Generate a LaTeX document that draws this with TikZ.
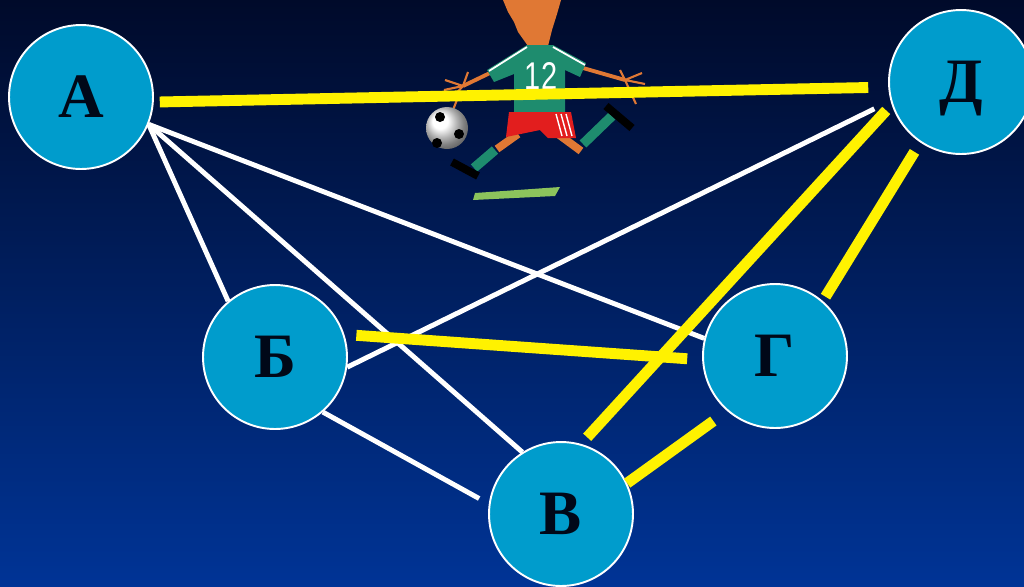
\documentclass[tikz,border=0pt]{standalone}
\usepackage{fontspec}
\setmainfont{Liberation Serif}
\setsansfont{Liberation Sans}
\usepackage{tikz}
\definecolor{bgtop}{RGB}{0,10,42}
\definecolor{bgbot}{RGB}{0,52,150}
\definecolor{vfill}{RGB}{0,156,204}
\definecolor{vtext}{RGB}{0,8,24}
\definecolor{skin}{RGB}{224,120,52}
\definecolor{shirt}{RGB}{30,140,110}
\definecolor{shorts}{RGB}{226,30,30}
\definecolor{grass}{RGB}{140,196,92}

\begin{document}
\begin{tikzpicture}[x=0.02cm,y=-0.02cm,
    vertex/.style={circle,fill=vfill,draw=white,line width=1.1pt,minimum size=2.88cm,inner sep=0pt,
      text=vtext,text depth=0pt,font=\fontsize{36}{36}\selectfont\bfseries},
    wline/.style={white,line width=2.8pt},
    yline/.style={yellow,line width=6.2pt}]
    \useasboundingbox (0,0) rectangle (1024,586);
    \clip (0,0) rectangle (1024,586);
    \shade[top color=bgtop,bottom color=bgbot] (0,0) rectangle (1024,586);

%   the player
    \fill[grass] (475,193) -- (560,187) -- (555,196) -- (473,200) -- cycle;
    \fill[skin] (503,0) -- (561,0) -- (557,14) -- (552,30) -- (548,46) -- (528,46) -- (518,32)
      -- (514,22) -- (508,12) -- cycle;
    \draw[skin,line width=2.2pt] (492,72) -- (463,86);
    \draw[skin,line width=1.2pt] (463,86) -- (445,80) (463,86) -- (444,90) (463,86) -- (452,98)
      (463,86) -- (468,72) (460,92) -- (453,110);
    \draw[skin,line width=2.2pt] (583,68) -- (625,80);
    \draw[skin,line width=1.2pt] (625,80) -- (642,73) (625,80) -- (645,84) (625,80) -- (636,104)
      (625,80) -- (620,70);
    \fill[shirt] (527,45) -- (553,45) -- (586,63) -- (580,77) -- (565,70) -- (565,116) -- (514,116)
      -- (514,74) -- (494,82) -- (487,70) -- cycle;
    \draw[white,line width=1pt] (527,47) -- (489,71) (553,47) -- (585,65);
    \node (num) at (541,76) [white,xscale=.75,font=\sffamily\fontsize{22}{22}\selectfont] {12};
    \draw[skin,line width=4.5pt] (518,134) -- (497,149) (558,134) -- (581,151);
    \draw[shirt,line width=5.5pt] (495,150) -- (474,168) (583,144) -- (612,116);
    \draw[black,line width=4.5pt] (452,162) -- (478,176) (606,106) -- (632,128);
    \fill[shorts] (509,112) -- (571,112) -- (576,138) -- (548,138) -- (540,130) -- (506,137) -- cycle;
    \draw[white,line width=.8pt] (556,114) -- (562,136) (561,114) -- (567,136) (566,114) -- (572,136);
    \shade[ball color=white] (447,128) circle (21);
    \fill[black] (440,117) circle (5) (459,134) circle (5) (437,143) circle (5);

%   the five circles
    \node (A) at (81,97) [vertex] {А};
    \node (B) at (275,357) [vertex] {Б};
    \node (V) at (561,514) [vertex] {В};
    \node (G) at (775,356) [vertex] {Г};
    \node (D) at (961,82) [vertex] {Д};

%   white edges
    \draw[wline] (A.-22) -- (B.130);
    \draw[wline] (A.-22) -- (V.122);
    \draw[wline] (A.-22) -- (G.166);
    \draw[wline,shorten <=0.36cm] (D.195) -- (B.-8);
    \draw[wline,shorten >=0.22cm] (B.-49) -- (V.172);
%   yellow edges
    \draw[yline,shorten <=0.12cm,shorten >=0.4cm] (A.-4) -- (D.184);
    \draw[yline,shorten <=0.24cm,shorten >=0.3cm] (B.18) -- (G.183);
    \draw[yline,shorten <=0.16cm,shorten >=0.18cm] (D.198) -- (V.74);
    \draw[yline,shorten <=0.22cm,shorten >=0.1cm] (D.236) -- (G.49);
    \draw[yline,shorten <=0.34cm] (G.-131) -- (V.25);
\end{tikzpicture}
\end{document}
